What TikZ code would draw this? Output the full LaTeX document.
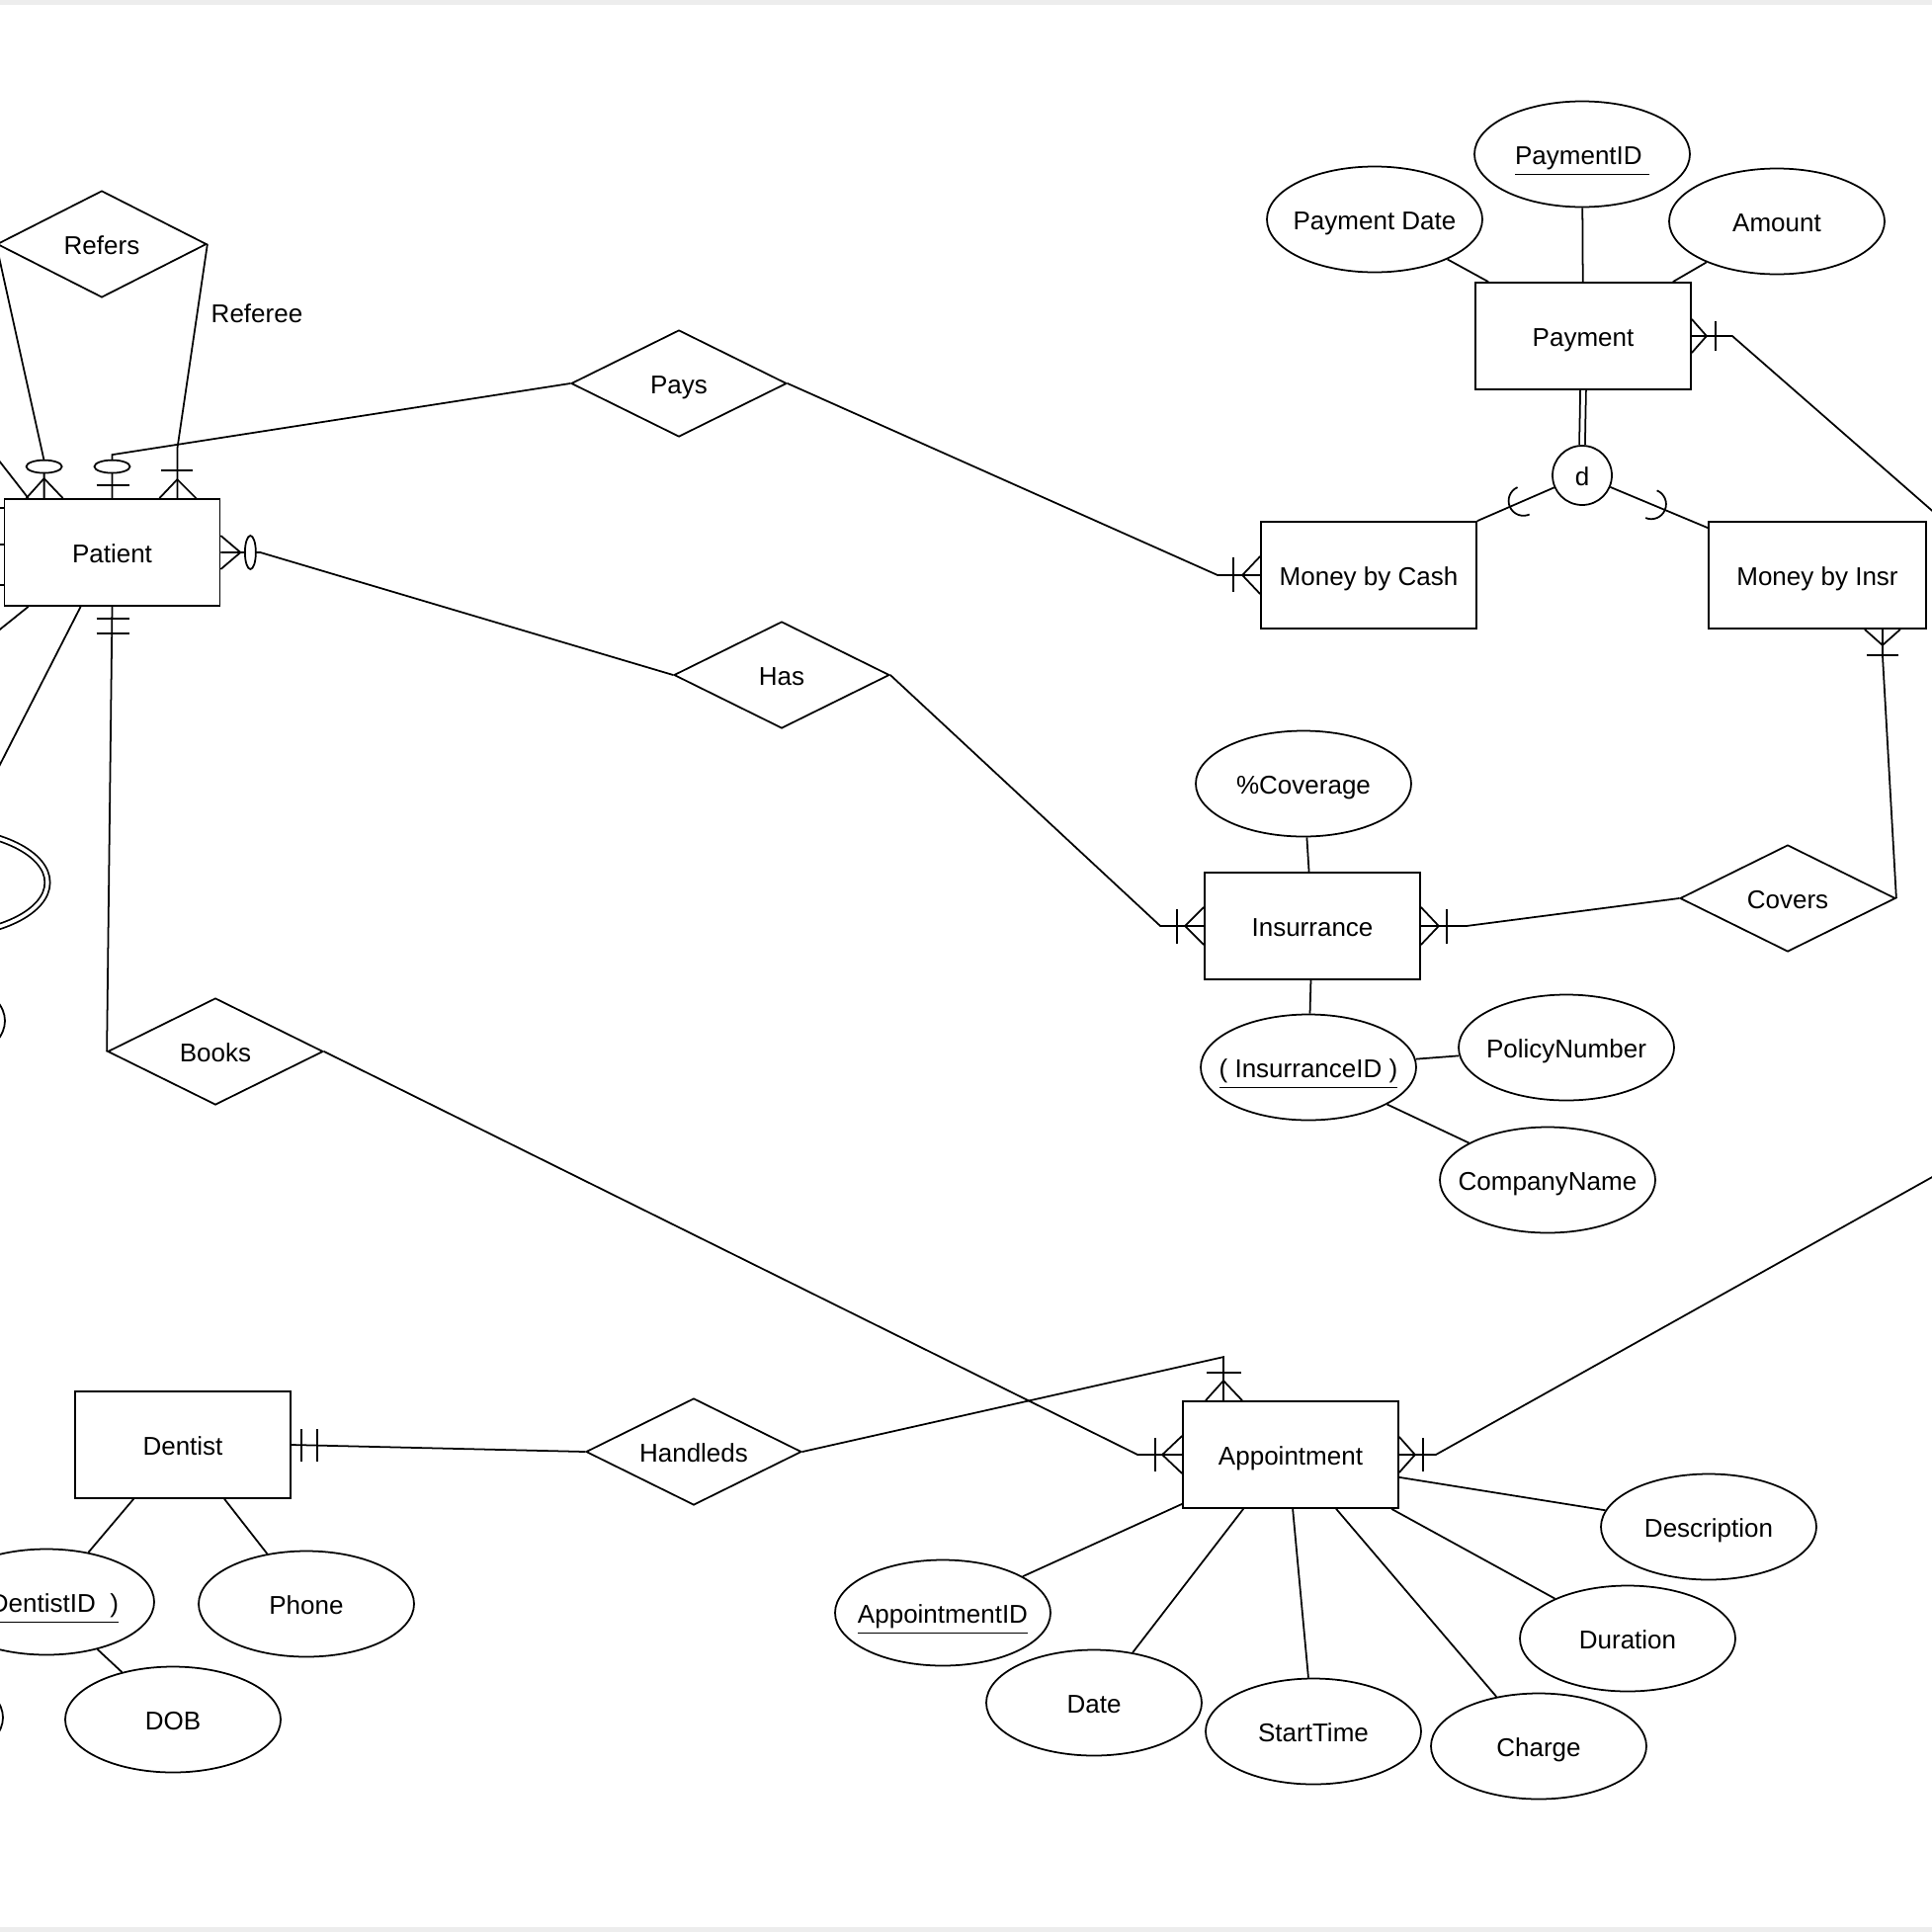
\documentclass[tikz,border=0pt]{standalone}
\usepackage{fontspec}
\setmainfont{Liberation Sans}
\usetikzlibrary{shapes.geometric,calc,positioning}
\newcommand{\attrtext}[1]{\makebox[0pt]{#1}}

\begin{document}
\begin{tikzpicture}[
  x=0.1mm, y=-0.1mm, line width=0.5pt,
  every node/.style={font=\fontsize{7.4}{9}\selectfont, text height=6.8pt, text depth=0.9pt},
  ent/.style={draw, rectangle, minimum width=21.8mm, minimum height=10.8mm, inner sep=0pt},
  rel/.style={draw, diamond, aspect=2, minimum width=21.8mm, minimum height=10.8mm, inner sep=0pt},
  attr/.style={draw, ellipse, minimum width=21.8mm, minimum height=10.7mm, inner sep=0pt},
  mattr/.style={attr, double, double distance=0.35mm},
  mk/.style={fill=white}]

\useasboundingbox (0,0) rectangle (1955,1955);
\fill[white] (0,0) rectangle (1955,1955);
\clip (0,0) rectangle (1955,1955);
\fill[black!7] (0,0) rectangle (1955,5);
\fill[black!7] (0,1950) rectangle (1955,1955);

\node[ent] (pat) at (113.5,559) {Patient};
\node[ent] (dentist) at (185,1462) {Dentist};
\node[ent] (appt) at (1306,1472) {Appointment};
\node[ent] (insur) at (1328,937) {Insurrance};
\node[ent] (payment) at (1602,340) {Payment};
\node[ent] (cash) at (1385,582) {Money by Cash};
\node[ent, minimum width=22mm] (insr) at (1839,582) {Money by Insr};

\node[rel, minimum width=21.2mm] (refers) at (103,247) {Refers};
\node[rel] (pays) at (687,388) {Pays};
\node[rel] (has) at (791,683) {Has};
\node[rel] (books) at (218,1064) {Books};
\node[rel] (handled) at (702,1469) {\attrtext{Handleds}};
\node[rel] (covers) at (1809,909) {Covers};
\node[draw, circle, fill=white, minimum size=6mm, inner sep=0pt] (d) at (1601,481) {d};

\node[attr] (payid) at (1601,156) {\attrtext{\underline{PaymentID\ }}};
\node[attr] (paydate) at (1391,222) {\attrtext{Payment Date}};
\node[attr] (amount) at (1798,224) {\attrtext{Amount}};
\node[attr] (cover) at (1319,793) {\attrtext{\%Coverage}};
\node[attr] (insid) at (1324,1080) {\attrtext{\underline{( InsurranceID )}}};
\node[attr] (policy) at (1585,1060) {\attrtext{PolicyNumber}};
\node[attr] (company) at (1566,1194) {\attrtext{CompanyName}};
\node[attr] (apptid) at (954,1632) {\attrtext{\underline{AppointmentID}}};
\node[attr] (date) at (1107,1723) {\attrtext{Date}};
\node[attr] (start) at (1329,1752) {\attrtext{StartTime}};
\node[attr] (charge) at (1557,1767) {\attrtext{Charge}};
\node[attr] (dur) at (1647,1658) {\attrtext{Duration}};
\node[attr] (desc) at (1729,1545) {\attrtext{Description}};
\node[attr] (dentid) at (47,1621) {\attrtext{\underline{( DentistID\ \ )}}};
\node[attr] (phone) at (310,1623) {\attrtext{Phone}};
\node[attr] (dob) at (175,1740) {\attrtext{DOB}};
\node[mattr] (multi) at (-61,893) {};
\node[attr] (leftA) at (-104,1033) {};
\node[attr] (leftB) at (-106,1738) {};
\node (referee) at (260,316) {Referee};

\coordinate (offL1) at (-40,416);
\coordinate (offL2) at (-40,669);
\coordinate (offR1) at (2000,556);
\coordinate (offR2) at (2000,1166);
\coordinate (pa) at ($(pat.north west)+(41,0)$);
\coordinate (pc) at ($(pat.north east)+(-44,0)$);
\coordinate (ph) at ($(appt.north)+(-68,0)$);
\coordinate (pi) at ($(insr.south east)+(-45,0)$);

% attributes
\draw (payid) -- (payment);
\draw (paydate) -- ($(payment.north west)+(14,0)$);
\draw (amount) -- ($(payment.north east)+(-19,0)$);
\draw (cover) -- (insur);
\draw (insur) -- (insid);
\draw (insid) -- (policy);
\draw (insid) -- (company);
\draw (apptid) -- ($(appt.south west)+(0,-5)$);
\draw (date) -- ($(appt.south west)+(62,0)$);
\draw (start) -- ($(appt.south west)+(112,0)$);
\draw (charge) -- ($(appt.south west)+(156,0)$);
\draw (dur) -- ($(appt.south west)+(212,0)$);
\draw (desc) -- ($(appt.south east)+(0,-32)$);
\draw (dentid) -- ($(dentist.south west)+(60,0)$);
\draw (phone) -- ($(dentist.south west)+(152,0)$);
\draw (dentid) -- (dob);

% lines leaving the page on the left and right
\draw (offL1) -- ($(pat.north west)+(25,0)$);
\draw ($(pat.north west)+(0,10)$) -- ++(-45,0);
\draw ($(pat.north west)+(0,47)$) -- ++(-45,0);
\draw ($(pat.north west)+(0,88)$) -- ++(-45,0);
\draw ($(pat.south west)+(25,0)$) -- (offL2);
\draw ($(pat.south west)+(78,0)$) -- (multi);

% Refers
\draw (refers.west) -- ($(pa)+(0,-38)$) -- (pa);
\draw (pa) ++(-18,0) -- ++(18,-20) -- ++(19,20);
\draw[mk] (pa) ++(0,-32) ellipse[x radius=18, y radius=6.5];
\draw (refers.east) -- ($(pc)+(0,-50)$) -- (pc);
\draw (pc) ++(-18,0) -- ++(18,-19) -- ++(19,19);
\draw (pc) ++(-16,-28) -- ++(32,0);

% Pays
\draw (pat.north) -- ++(0,-44) -- (pays.west);
\draw (pat.north) ++(-16,-13) -- ++(33,0);
\draw[mk] (pat.north) ++(0,-32) ellipse[x radius=18, y radius=6.5];
\draw (pays.east) -- ($(cash.west)+(-43,0)$) -- (cash.west);
\draw (cash.west) ++(0,-19) -- ++(-18,19) -- ++(18,19);
\draw (cash.west) ++(-27,-18) -- ++(0,35);

% Has
\draw (pat.east) -- ++(40,0) -- (has.west);
\draw (pat.east) ++(0,-17) -- ++(20,17) -- ++(-20,17);
\draw[mk] (pat.east) ++(30,0) ellipse[x radius=5.5, y radius=17];
\draw (has.east) -- ($(insur.west)+(-44,0)$) -- (insur.west);
\draw (insur.west) ++(0,-19) -- ++(-19,19) -- ++(19,19);
\draw (insur.west) ++(-27,-17) -- ++(0,35);

% Covers
\draw (insur.east) -- ++(46,0) -- (covers.west);
\draw (insur.east) ++(0,-19) -- ++(18,19) -- ++(-18,19);
\draw (insur.east) ++(26,-17) -- ++(0,35);
\draw (covers.east) -- ($(pi)+(0,25)$) -- (pi);
\draw (pi) ++(-18,0) -- ++(18,16) -- ++(18,-16);
\draw (pi) ++(-16,26) -- ++(32,0);

% Books
\draw (pat.south) -- (books.west);
\draw (pat.south) ++(-16,12) -- ++(33,0) (pat.south) ++(-16,27) -- ++(33,0);
\draw (books.east) -- ($(appt.west)+(-45,0)$) -- (appt.west);
\draw (appt.west) ++(0,-19) -- ++(-20,19) -- ++(20,19);
\draw (appt.west) ++(-27,-17) -- ++(0,34);

% Handleds
\draw (dentist.east) -- (handled.west);
\draw (dentist.east) ++(10,-16) -- ++(0,33) (dentist.east) ++(26,-16) -- ++(0,33);
\draw (handled.east) -- ($(ph)+(0,-44)$) -- (ph);
\draw (ph) ++(-18,0) -- ++(18,-20) -- ++(19,20);
\draw (ph) ++(-17,-28) -- ++(35,0);

% Appointment and Payment to the right
\draw (appt.east) -- ++(37,0) -- (offR2);
\draw (appt.east) ++(0,-18) -- ++(16,18) -- ++(-16,18);
\draw (appt.east) ++(24,-17) -- ++(0,34);
\draw (payment.east) -- ++(41,0) -- (offR1);
\draw (payment.east) ++(0,-17) -- ++(15,17) -- ++(-15,17);
\draw (payment.east) ++(24,-15) -- ++(0,30);

% specialisation
\draw[double, double distance=0.4mm] (payment.south) -- (d.north);
\draw (d) -- (cash.north east);
\draw (d) -- ($(insr.north west)+(0,7)$);
\draw ($(d)!0.56!(cash.north east)$) ++(66.3:15) arc[start angle=66.3, end angle=246.3, radius=15];
\draw ($(d)!0.55!($(insr.north west)+(0,7)$)$) ++(-67.5:15) arc[start angle=-67.5, end angle=112.5, radius=15];
\end{tikzpicture}
\end{document}
